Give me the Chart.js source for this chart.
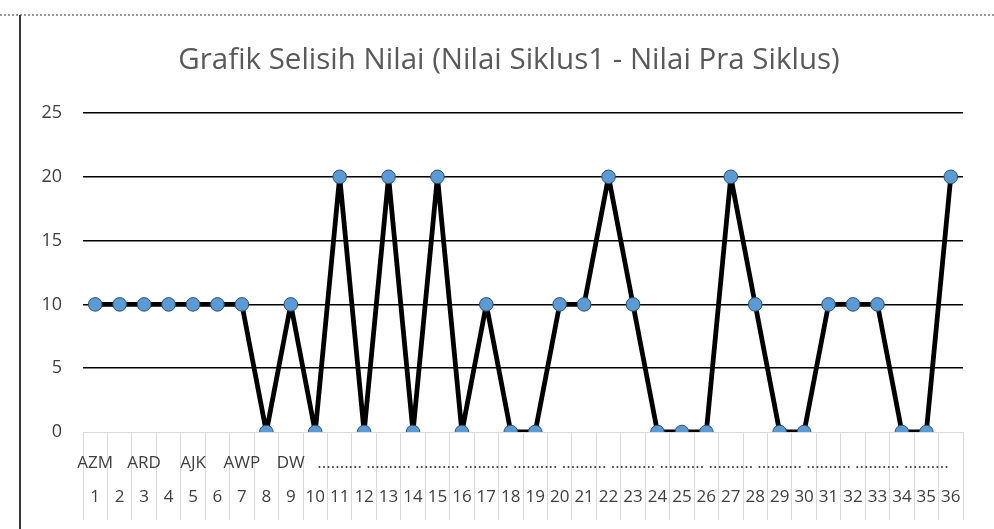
<!DOCTYPE html>
<html>
<head>
<meta charset="utf-8">
<script src="https://cdn.jsdelivr.net/npm/chart.js@4/dist/chart.umd.min.js"></script>
<style>
  html, body { margin: 0; padding: 0; background: #fff; }
  #page { position: relative; width: 994px; height: 529px; overflow: hidden; }
  #topline { position: absolute; left: 0; top: 14px; width: 994px; height: 0; border-top: 2px dotted #9a9a9a; }
  #sideline { position: absolute; left: 19px; top: 15px; width: 2px; height: 514px; background: #3a3a3a; }
  canvas { position: absolute; left: 0; top: 0; }
</style>
</head>
<body>
<div id="page">
  <div id="topline"></div>
  <div id="sideline"></div>
  <canvas id="chart" width="994" height="529"></canvas>
</div>
<script>
// category labels: inner row (names, every other one shown) and outer row (numbers)
const names = [
  'AZM', '', 'ARD', '', 'AJK', '', 'AWP', '', 'DW', '',
  '..........', '', '..........', '', '..........', '', '..........', '', '..........', '',
  '..........', '', '..........', '', '..........', '', '..........', '', '..........', '',
  '..........', '', '..........', '', '..........', ''
];
const numbers = [
  '1', '2', '3', '4', '5', '6', '7', '8', '9', '10',
  '11', '12', '13', '14', '15', '16', '17', '18', '19', '20',
  '21', '22', '23', '24', '25', '26', '27', '28', '29', '30',
  '31', '32', '33', '34', '35', '36'
];
// selisih nilai (siklus 1 - pra siklus)
const selisih = [
  10, 10, 10, 10, 10, 10, 10, 0, 10, 0,
  20, 0, 20, 0, 20, 0, 10, 0, 0, 10,
  10, 20, 10, 0, 0, 0, 20, 10, 0, 0,
  10, 10, 10, 0, 0, 20
];
const yTicks = [0, 5, 10, 15, 20, 25];

Chart.defaults.font.family = "'Open Sans', 'Noto Sans', sans-serif";
Chart.defaults.color = '#595959';

const labels = numbers.map((n, i) => [names[i], n]);

// centre the title the way the original does (a bit right of the canvas middle)
const titleShift = {
  id: 'titleShift',
  afterLayout(chart) {
    const t = chart.titleBlock;
    if (t) { t.left = 55; t.width = t.right - t.left; }
  }
};

new Chart(document.getElementById('chart').getContext('2d'), {
  type: 'line',
  data: {
    labels: labels,
    datasets: [{
      label: 'Selisih',
      data: selisih,
      borderColor: '#000',
      borderWidth: 4.8,
      borderJoinStyle: 'round',
      tension: 0,
      fill: false,
      pointRadius: 6.8,
      pointBackgroundColor: '#5b9bd5',
      pointBorderColor: '#2e4f70',
      pointBorderWidth: 1
    }]
  },
  options: {
    responsive: false,
    animation: false,
    layout: { padding: { left: 38, right: 31, top: 43, bottom: 0 } },
    plugins: {
      legend: { display: false },
      tooltip: { enabled: false },
      title: {
        display: true,
        text: 'Grafik Selisih Nilai (Nilai Siklus1 - Nilai Pra Siklus)',
        color: '#595959',
        font: { size: 29.5, weight: 'normal' },
        padding: { top: 0, bottom: 34.6 }
      }
    },
    scales: {
      x: {
        offset: true,
        border: { display: true, color: '#d9d9d9', width: 1 },
        grid: {
          offset: true,
          drawOnChartArea: false,
          drawTicks: true,
          tickLength: 88,
          color: '#d9d9d9',
          lineWidth: 1
        },
        ticks: {
          autoSkip: false,
          maxRotation: 0,
          padding: -74,
          color: '#404040',
          font: { size: 17, lineHeight: '34px' }
        },
        afterFit(scale) { scale.height = 97; }
      },
      y: {
        min: 0,
        max: 25,
        border: { display: false },
        grid: {
          drawTicks: false,
          color: ctx => ctx.tick.value === 0 ? 'rgba(0,0,0,0)' : '#000',
          lineWidth: 1.5
        },
        afterBuildTicks(scale) { scale.ticks = yTicks.map(v => ({ value: v })); },
        ticks: {
          padding: 21,
          color: '#404040',
          font: { size: 18 }
        },
        afterFit(scale) { scale.width = 45; }
      }
    }
  },
  plugins: [titleShift]
});
</script>
</body>
</html>
